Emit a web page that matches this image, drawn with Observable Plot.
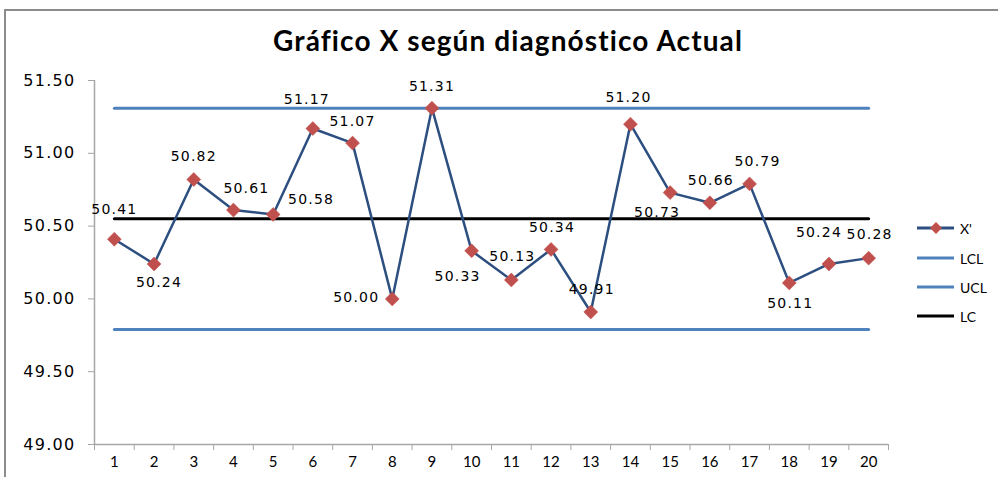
<!DOCTYPE html>
<html><head><meta charset="utf-8">
<script src="https://cdn.jsdelivr.net/npm/d3@7"></script>
<script src="https://cdn.jsdelivr.net/npm/@observablehq/plot@0.6"></script>
<style>
body{margin:0;background:#fff;overflow:hidden;}
#wrap{position:relative;width:998px;height:477px;overflow:hidden;background:#fff;}
#frame{position:absolute;left:4px;top:9px;width:1200px;height:800px;border:2px solid #8c8c8c;}
#chart{position:absolute;left:0;top:0;}
#title{position:absolute;left:0;width:1016px;top:23px;text-align:center;font:bold 28px Lato, "Open Sans", sans-serif;letter-spacing:1.1px;color:#000;}
#legend{position:absolute;left:917px;top:0;font:14px Lato, sans-serif;color:#000;}
.lg{position:absolute;left:0;height:16px;display:flex;align-items:center;white-space:nowrap;}
.lg svg{margin-right:5px;}
</style></head><body>
<div id="wrap"><div id="frame"></div><div id="chart"></div><div id="title">Gráfico X según diagnóstico Actual</div><div id="legend"></div></div>
<script>
// ---- data ----
const samples = [1,2,3,4,5,6,7,8,9,10,11,12,13,14,15,16,17,18,19,20];
const xbar = [50.41,50.24,50.82,50.61,50.58,51.17,51.07,50.00,51.31,50.33,50.13,50.34,49.91,51.20,50.73,50.66,50.79,50.11,50.24,50.28];
const seriesNames = ["X'", "LCL", "UCL", "LC"];
const limitValues = {LCL: 49.79, UCL: 51.31, LC: 50.55};
const yTicks = [49.00, 49.50, 50.00, 50.50, 51.00, 51.50];
// ---- styles ----
const colors = {"X'": "#2c4f80", LCL: "#4f81bd", UCL: "#4f81bd", LC: "#000000"};
const markerColor = "#c0504d";
const labelOffsets = [[0,-30],[5,19],[0,-23],[13,-22],[38,-15],[-6,-29],[0,-22],[-36,-1],[0,-22],[-14,26],[1,-23],[1,-22],[1,-22],[-2,-27],[-13,20],[1,-22],[8,-22],[1,21],[-10,-31],[1,-24]];

const boundaries = d3.range(0, samples.length + 1).map(i => i + 0.5);
const limitRows = ["LCL", "UCL", "LC"].flatMap(name => samples.map(s => ({s, v: limitValues[name], name})));
const fmt = d3.format(".2f");

const labelMarks = samples.map((s, i) => Plot.text([i], {
  x: d => samples[d], y: d => xbar[d], text: d => fmt(xbar[d]),
  dx: labelOffsets[i][0], dy: labelOffsets[i][1], fontSize: 14, fill: "#000"
}));

const chart = Plot.plot({
  width: 998, height: 477,
  marginLeft: 94, marginRight: 110, marginTop: 80, marginBottom: 33,
  x: {domain: [0.5, 20.5]},
  y: {domain: [49, 51.5]},
  style: {fontFamily: "'DejaVu Sans', Verdana, sans-serif", background: "transparent", color: "#000", overflow: "visible"},
  marks: [
    Plot.ruleX([0.5], {stroke: "#a6a6a6", strokeWidth: 1.5}),
    Plot.ruleY([49], {stroke: "#a6a6a6", strokeWidth: 1.5}),
    Plot.axisY({ticks: yTicks, tickSize: 6, tickFormat: () => "", stroke: "#a6a6a6", label: null}),
    Plot.axisY({ticks: yTicks, tickSize: 0, tickPadding: 19, tickFormat: fmt, fontSize: 16, label: null}),
    Plot.axisX({ticks: boundaries, tickSize: 6, tickFormat: () => "", stroke: "#a6a6a6", label: null}),
    Plot.axisX({ticks: samples, tickSize: 0, tickPadding: 12, fontSize: 15, fontFamily: "Lato, sans-serif", label: null}),
    Plot.lineY(limitRows, {x: "s", y: "v", z: "name", stroke: d => colors[d.name], strokeWidth: 3}),
    Plot.line(samples, {x: samples, y: xbar, stroke: colors["X'"], strokeWidth: 2.5}),
    Plot.dot(samples, {x: samples, y: xbar, symbol: "diamond2", r: 6.3, fill: markerColor, stroke: markerColor, strokeWidth: 0.5}),
    ...labelMarks
  ]
});
document.getElementById("chart").appendChild(chart);
d3.select(chart).selectAll("g[aria-label='text'] text").style("letter-spacing", "1.2px");
d3.select(chart).selectAll("g[aria-label='y-axis tick label'] text").style("letter-spacing", "1.3px");

// legend
const legend = d3.select("#legend");
const legendTops = [220, 250, 279, 308];
seriesNames.forEach((name, i) => {
  const row = legend.append("div").attr("class", "lg").style("top", legendTops[i] + "px");
  const svg = row.append("svg").attr("width", 38).attr("height", 16);
  svg.append("line").attr("x1", 0).attr("x2", 37).attr("y1", 8).attr("y2", 8)
    .attr("stroke", colors[name]).attr("stroke-width", 3);
  if (name === "X'") {
    svg.append("path").attr("d", d3.symbol(d3.symbolDiamond2, 90)()).attr("transform", "translate(19,8)").attr("fill", markerColor);
  }
  row.append("span").text(name);
});
</script>
</body></html>
